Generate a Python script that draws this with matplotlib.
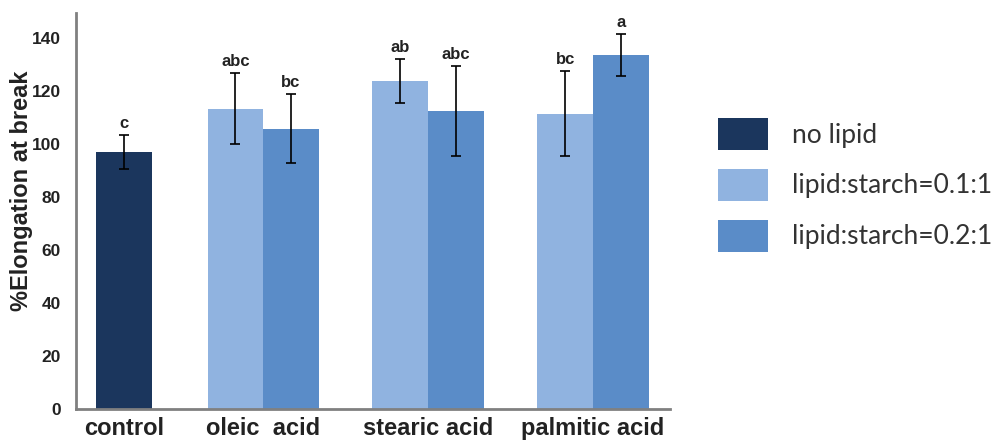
import matplotlib
matplotlib.use("Agg")
from matplotlib import pyplot as plt

# data
groups = ["control", "oleic  acid", "stearic acid", "palmitic acid"]
series = ["no lipid", "lipid:starch=0.1:1", "lipid:starch=0.2:1"]

control_mean = 97.0
control_err = 6.5
control_letter = "c"

low_mean = [113.3, 123.8, 111.4]
low_err = [13.5, 8.3, 16.0]
low_letters = ["abc", "ab", "bc"]

high_mean = [105.7, 112.5, 133.5]
high_err = [13.0, 17.0, 8.0]
high_letters = ["bc", "abc", "a"]

yticks = [0, 20, 40, 60, 80, 100, 120, 140]

colors = ["#1B365D", "#90B3E0", "#5A8CC8"]

# layout
W, H = 1006, 444
fig = plt.figure(figsize=(W / 100, H / 100), dpi=100)
ax = fig.add_axes([76 / W, 35 / H, 594 / W, 396 / H])

centers = [0.86, 3.36, 6.32, 9.28]
bw = 1.0
err_kw = dict(ecolor="black", elinewidth=1.2, capsize=3.5, capthick=1.2)
letter_kw = dict(ha="center", va="bottom", fontsize=12, fontweight="bold",
                 color="#222222", family="Liberation Sans")

b0 = ax.bar(centers[0], control_mean, bw, color=colors[0], yerr=control_err,
            error_kw=err_kw, label=series[0])
ax.text(centers[0], control_mean + control_err + 1.5, control_letter, **letter_kw)

xl = [c - bw / 2 for c in centers[1:]]
xh = [c + bw / 2 for c in centers[1:]]
b1 = ax.bar(xl, low_mean, bw, color=colors[1], yerr=low_err,
            error_kw=err_kw, label=series[1])
b2 = ax.bar(xh, high_mean, bw, color=colors[2], yerr=high_err,
            error_kw=err_kw, label=series[2])
for x, m, e, t in zip(xl, low_mean, low_err, low_letters):
    ax.text(x, m + e + 1.5, t, **letter_kw)
for x, m, e, t in zip(xh, high_mean, high_err, high_letters):
    ax.text(x, m + e + 1.5, t, **letter_kw)

ax.set_xlim(0, 10.66)
ax.set_ylim(0, 149.4)
ax.set_yticks(yticks)
ax.set_yticklabels([str(v) for v in yticks], fontsize=12.5, fontweight="bold",
                   family="Liberation Sans", color="#222222")
ax.set_xticks(centers)
ax.set_xticklabels(groups, fontsize=17, fontweight="bold",
                   family="Liberation Sans", color="#222222")
ax.tick_params(axis="both", length=0)
ax.tick_params(axis="y", pad=11)
ax.tick_params(axis="x", pad=6)

for side in ["top", "right"]:
    ax.spines[side].set_visible(False)
for side in ["left", "bottom"]:
    ax.spines[side].set_color("#808080")
    ax.spines[side].set_linewidth(2)

ax.set_ylabel("%Elongation at break", fontsize=17, fontweight="bold",
              family="Liberation Sans", color="#222222")
ax.yaxis.set_label_coords(-43 / 594, 0.55)

fig.legend(handles=[b0, b1, b2], labels=series, loc="upper left",
           bbox_to_anchor=(718 / W, 1 - 118 / H), frameon=False,
           prop=dict(family="Lato", size=19), labelcolor="#333333",
           handlelength=1.9, handleheight=1.48, labelspacing=0.72,
           handletextpad=0.9, borderpad=0, borderaxespad=0)

fig.savefig("out.png", dpi=100)
